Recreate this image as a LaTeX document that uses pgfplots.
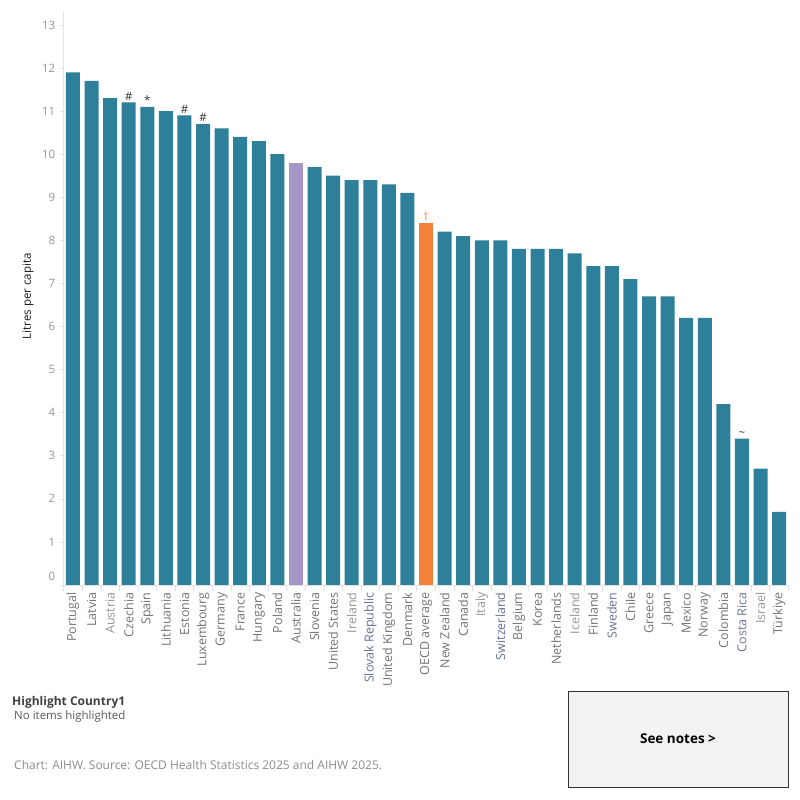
\documentclass[border=0pt]{standalone}
\usepackage{fontspec}
\setmainfont{Open Sans}
\usepackage{pgfplots}
\usepackage{pgfplotstable}
\pgfplotsset{compat=1.18}

\definecolor{barteal}{RGB}{46,127,153}
\definecolor{barpurple}{RGB}{165,150,200}
\definecolor{barorange}{RGB}{245,128,55}
\definecolor{labgray}{RGB}{115,115,115}
\definecolor{lablight}{RGB}{150,150,150}
\definecolor{labblue}{RGB}{105,112,150}
\definecolor{axisgray}{RGB}{225,225,225}
\definecolor{notefill}{RGB}{242,242,242}

% Litres of alcohol per capita, one row per country
\pgfplotstableread{
x y
0 11.9
1 11.7
2 11.3
3 11.2
4 11.1
5 11.0
6 10.9
7 10.7
8 10.6
9 10.4
10 10.3
11 10.0
13 9.7
14 9.5
15 9.4
16 9.4
17 9.3
18 9.1
20 8.2
21 8.1
22 8.0
23 8.0
24 7.8
25 7.8
26 7.8
27 7.7
28 7.4
29 7.4
30 7.1
31 6.7
32 6.7
33 6.2
34 6.2
35 4.2
36 3.4
37 2.7
38 1.7
}\countries
\pgfplotstableread{
x y
12 9.8
}\australia
\pgfplotstableread{
x y
19 8.4
}\oecd

\begin{document}
\begin{tikzpicture}
\path (0pt,0pt) rectangle (800pt,800pt);
\begin{axis}[
  at={(63.7pt,215pt)}, anchor=south west,
  scale only axis, width=725.6pt, height=573pt,
  xmin=-0.5, xmax=38.55, ymin=0, ymax=13.3,
  axis lines*=left,
  axis line style={-, draw=axisgray, line width=0.8pt},
  ytick={1,...,13},
  extra y ticks={0},
  extra y tick style={yticklabel style={yshift=9pt}},
  xtick={0,...,38},
  minor xtick={-0.5,0.5,...,38.5},
  major x tick style={draw=none},
  minor x tick style={draw=axisgray, line width=0.6pt},
  minor tick length=6pt,
  y tick style={draw=axisgray, line width=0.6pt},
  major tick length=4pt,
  tick align=outside,
  yticklabel style={font=\fontsize{11.5}{11.5}\selectfont, text=lablight, xshift=-1pt},
  /pgf/number format/assume math mode=true,
  xticklabel style={font=\fontsize{12.5}{12.5}\selectfont, rotate=90, anchor=east, text=labgray},
  xticklabels={Portugal, Latvia, \textcolor{lablight}{Austria}, Czechia, Spain, Lithuania, Estonia, Luxembourg, Germany, France, Hungary, Poland, Australia, Slovenia, United States, \textcolor{lablight}{Ireland}, \textcolor{labblue}{Slovak Republic}, United Kingdom, Denmark, OECD average, New Zealand, Canada, \textcolor{lablight}{Italy}, \textcolor{labblue}{Switzerland}, Belgium, Korea, Netherlands, \textcolor{lablight}{Iceland}, Finland, \textcolor{labblue}{Sweden}, Chile, Greece, Japan, Mexico, Norway, Colombia, \textcolor{labblue}{Costa Rica}, \textcolor{lablight}{Israel}, Türkiye},
  ylabel={Litres per capita},
  ylabel style={at={(axis description cs:-0.049,0.504)}, anchor=center, font=\fontsize{11.5}{11.5}\selectfont, text=black!90},
  clip=false,
]
\addplot[ybar, bar width=14pt, bar shift=0pt, fill=barteal, draw=none] table[x=x, y=y]{\countries};
\addplot[ybar, bar width=14pt, bar shift=0pt, fill=barpurple, draw=none] table[x=x, y=y]{\australia};
\addplot[ybar, bar width=14pt, bar shift=0pt, fill=barorange, draw=none] table[x=x, y=y]{\oecd};
% data-quality markers above selected bars
\addplot[only marks, mark=none, point meta=explicit symbolic,
  nodes near coords,
  nodes near coords style={anchor=south, inner sep=2pt, font=\fontsize{11.5}{11.5}\selectfont, text=black!80}]
  coordinates {(3,11.2) [\#] (4,11.1) [*] (6,10.9) [\#] (7,10.7) [\#]
               (19,8.4) [\textcolor{barorange}{\textdagger}] (36,3.4) [\textasciitilde]};
\end{axis}
\node[anchor=west, inner sep=0, font=\fontsize{12}{12}\selectfont\bfseries, text=black!75] at (12pt,98pt) {Highlight Country1};
\node[anchor=west, inner sep=0, font=\fontsize{11.5}{11.5}\selectfont, text=black!65] at (14pt,83pt) {No items highlighted};
\node[anchor=west, inner sep=0, font=\fontsize{12}{12}\selectfont, text=black!45] at (14pt,35pt) {Chart: AIHW. Source: OECD Health Statistics 2025 and AIHW 2025.};
\draw[draw=black!80, line width=0.9pt, fill=notefill] (568pt,13pt) rectangle (788pt,109pt);
\node[font=\fontsize{13.5}{13.5}\selectfont\bfseries, text=black] at (678pt,61pt) {See notes >};
\end{tikzpicture}
\end{document}
